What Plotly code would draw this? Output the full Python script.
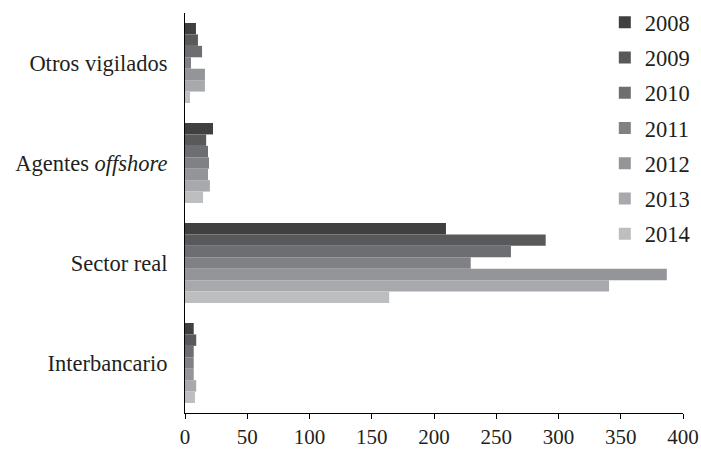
import plotly.graph_objects as go

categories = ["Otros vigilados", "Agentes <i>offshore</i>", "Sector real", "Interbancario"]
years = ["2008", "2009", "2010", "2011", "2012", "2013", "2014"]
values = {
    "2008": [8.8, 22.5, 209.6, 7],
    "2009": [10.4, 17, 289.7, 9],
    "2010": [13.7, 18.5, 261.8, 7],
    "2011": [4.8, 19.3, 229.5, 7],
    "2012": [16, 18.5, 387, 7],
    "2013": [16, 20, 340.6, 9],
    "2014": [4, 14.5, 164, 8],
}
colors = ["#404041", "#58595b", "#6d6e71", "#808184", "#939598", "#a7a9ac", "#bcbec0"]
x_ticks = [0, 50, 100, 150, 200, 250, 300, 350, 400]

FONT = "'Liberation Serif', 'Times New Roman', Times, serif"

fig = go.Figure()
for yr, col in zip(years, colors):
    fig.add_trace(go.Bar(
        y=categories, x=values[yr], name=yr, orientation="h",
        marker=dict(color=col, line=dict(width=0)),
        legendgroup=yr,
    ))

fig.update_layout(
    width=701, height=449,
    margin=dict(l=185, r=18, t=13, b=36, autoexpand=False),
    paper_bgcolor="white", plot_bgcolor="white",
    barmode="group", bargap=0.2, bargroupgap=0,
    font=dict(family=FONT, size=21, color="#231f20"),
    showlegend=True,
    legend=dict(x=0.843, y=1.03, xanchor="left", yanchor="top",
                bgcolor="rgba(0,0,0,0)", font=dict(family=FONT, size=22.5),
                tracegroupgap=3, itemwidth=30, maxheight=400),
    xaxis=dict(range=[0, 400], tickvals=x_ticks, showgrid=False, zeroline=False,
               showline=True, linecolor="black", linewidth=1, automargin=False,
               ticks="outside", ticklen=5, tickcolor="black",
               tickfont=dict(size=21)),
    yaxis=dict(autorange="reversed", showgrid=False, zeroline=False,
               showline=True, linecolor="black", linewidth=1, automargin=False,
               ticks="", ticklabelstandoff=12, tickfont=dict(size=22.5)),
)

# remove the browser's default 8px body margin so the figure fills the window exactly
fig.write_html("out.html",
               config={"displayModeBar": False},
               post_script="document.body.style.margin='0';document.body.style.overflow='hidden';")
